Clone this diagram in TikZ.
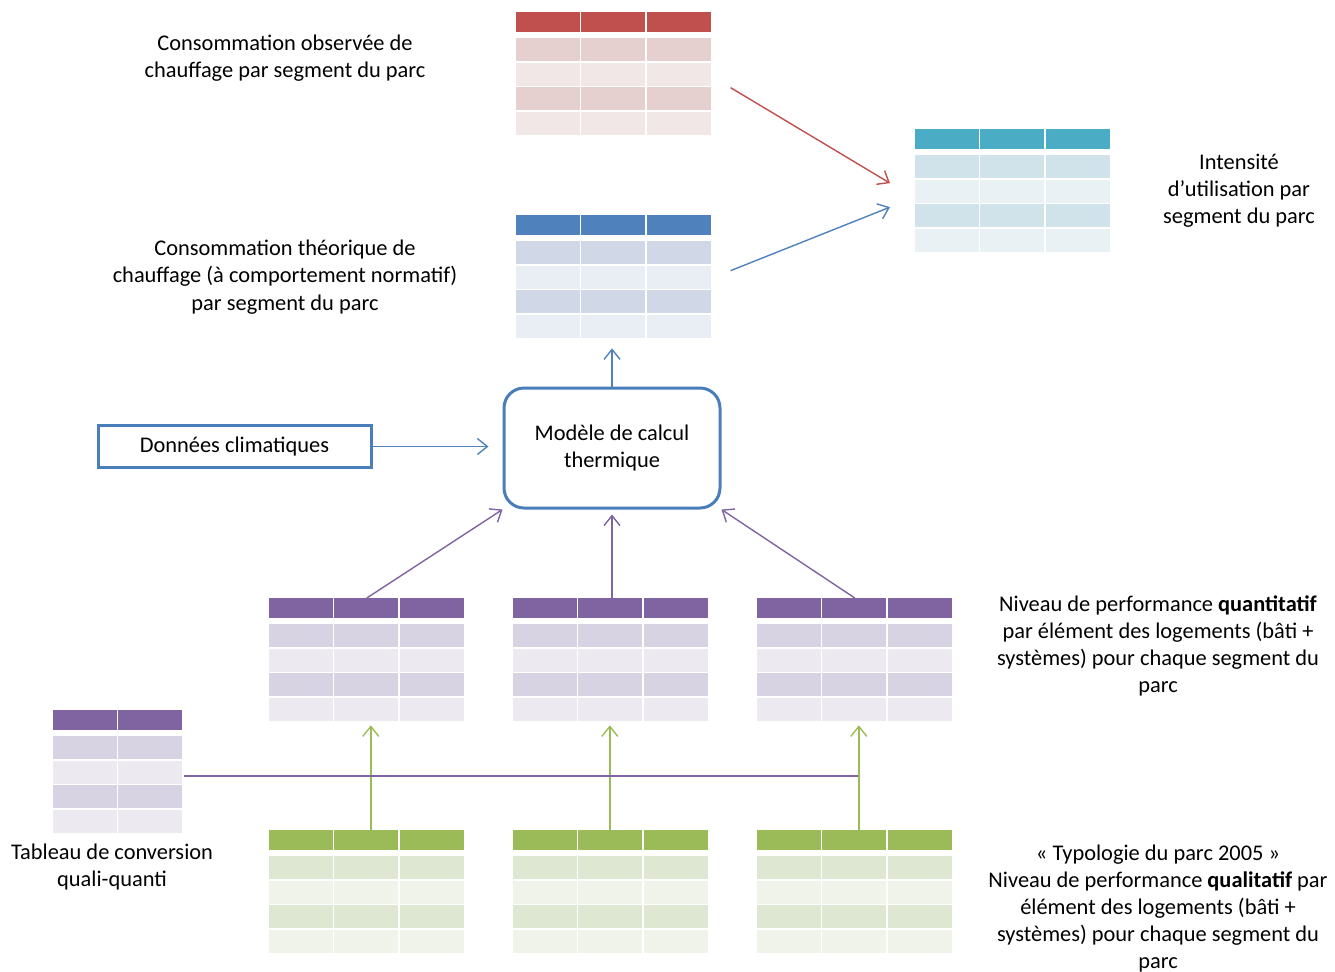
\documentclass[tikz,border=0pt]{standalone}
\usepackage{fontspec}
\setmainfont{Carlito}
\usepackage{xcolor}
\usetikzlibrary{arrows.meta,positioning,calc}

\definecolor{rougeH}{HTML}{C0504D}
\definecolor{rougeA}{HTML}{E6CFCF}
\definecolor{rougeB}{HTML}{F2E7E7}
\definecolor{bleuH}{HTML}{4F81BD}
\definecolor{bleuA}{HTML}{D0D8E8}
\definecolor{bleuB}{HTML}{E9EDF4}
\definecolor{cyanH}{HTML}{4BACC6}
\definecolor{cyanA}{HTML}{D0E3EA}
\definecolor{cyanB}{HTML}{E9F1F4}
\definecolor{violetH}{HTML}{8064A2}
\definecolor{violetA}{HTML}{D8D3E3}
\definecolor{violetB}{HTML}{ECEAF0}
\definecolor{vertH}{HTML}{9BBB59}
\definecolor{vertA}{HTML}{DEE7D1}
\definecolor{vertB}{HTML}{EFF3EA}
\definecolor{cadre}{HTML}{4A7EBB}

% tableau : nom, coin haut gauche, colonnes, entete, bande A, bande B
\newcommand{\tableau}[6]{%
  \node[tabl, minimum width=#3*32.8pt] (#1) at #2 {};
  \begin{scope}[shift={(#1.north west)}]
    \foreach \c in {1,...,#3} {
      \fill[#4] (\c*65.6-65.6+0.8,0) rectangle ++(64,20);
      \foreach \r/\col in {1/#5,2/#6,3/#5,4/#6}
        \fill[\col] (\c*65.6-65.6+0.8,\r*24.5-24.5+26) rectangle ++(64,23);
    }
  \end{scope}}

\begin{document}
\begin{tikzpicture}[
  x=0.5pt, y=-0.5pt,
  font=\fontsize{11.2}{13.6}\selectfont,
  tabl/.style={inner sep=0, minimum height=61.75pt, anchor=north west},
  label/.style={align=center, inner sep=0},
  boite/.style={draw=cadre, line width=1.5pt, align=center, inner sep=0},
  fleche/.style={-{Straight Barb[length=5pt,width=8pt]}, line width=0.7pt}
]
\useasboundingbox (0,0) rectangle (1335,971);

% tableaux
\tableau{obs}{(515,12)}{3}{rougeH}{rougeA}{rougeB}
\tableau{theo}{(515,215)}{3}{bleuH}{bleuA}{bleuB}
\tableau{intens}{(914,129)}{3}{cyanH}{cyanA}{cyanB}
\tableau{quantiA}{(268,598)}{3}{violetH}{violetA}{violetB}
\tableau{quantiB}{(512,598)}{3}{violetH}{violetA}{violetB}
\tableau{quantiC}{(756,598)}{3}{violetH}{violetA}{violetB}
\tableau{qualiA}{(268,830)}{3}{vertH}{vertA}{vertB}
\tableau{qualiB}{(512,830)}{3}{vertH}{vertA}{vertB}
\tableau{qualiC}{(756,830)}{3}{vertH}{vertA}{vertB}
\tableau{conv}{(52,710)}{2}{violetH}{violetA}{violetB}

% boites
\node[boite, minimum width=136.5pt, minimum height=21pt] (climat) at (234.5,446.5) {Données climatiques};
\node[boite, rounded corners=10pt, minimum width=108pt, minimum height=60pt] (modele) at (612,448) {Modèle de calcul\\thermique};

% textes
\node[label] (tobs) at (285,58) {Consommation observée de\\chauffage par segment du parc};
\node[label] (ttheo) at (285,277) {Consommation théorique de\\chauffage (à comportement normatif)\\par segment du parc};
\node[label] (tintens) at (1239,190.5) {Intensité\\d’utilisation par\\segment du parc};
\node[label] (tquanti) at (1158,646) {Niveau de performance \textbf{quantitatif}\\par élément des logements (bâti +\\systèmes) pour chaque segment du\\parc};
\node[label] (tquali) at (1158,908.5) {« Typologie du parc 2005 »\\Niveau de performance \textbf{qualitatif} par\\élément des logements (bâti +\\systèmes) pour chaque segment du\\parc};
\node[label] (tconv) at (112,867) {Tableau de conversion\\quali-quanti};

% liens
\draw[fleche, rougeH] ([shift={(18,13.5)}]obs.east) -- ([shift={(-24,-8)}]intens.west);
\draw[fleche, bleuH] ([shift={(18,-6.5)}]theo.east) -- ([shift={(-24,16)}]intens.west);
\draw[fleche, bleuH, shorten >=4.5pt] (modele.north) -- (modele.north |- theo.south);
\draw[fleche, bleuH, shorten >=7pt] (climat.east) -- (climat.east -| modele.west);
\draw[fleche, violetH] (quantiA.north) -- (modele.south west);
\draw[fleche, violetH, shorten >=2.5pt] (quantiB.north -| modele.south) -- (modele.south);
\draw[fleche, violetH] (quantiC.north) -- (modele.south east);
\draw[fleche, vertH, shorten >=1.5pt] ([xshift=2]qualiA.north) -- ([xshift=2]quantiA.south);
\draw[fleche, vertH, shorten >=1.5pt] ([xshift=-0.5]qualiB.north) -- ([xshift=-0.5]quantiB.south);
\draw[fleche, vertH, shorten >=1.5pt] ([xshift=2]qualiC.north) -- ([xshift=2]quantiC.south);
\coordinate (fin) at (858,776);
\draw[violetH, line width=0.7pt] (conv.east |- fin) -- (fin);
\end{tikzpicture}
\end{document}
